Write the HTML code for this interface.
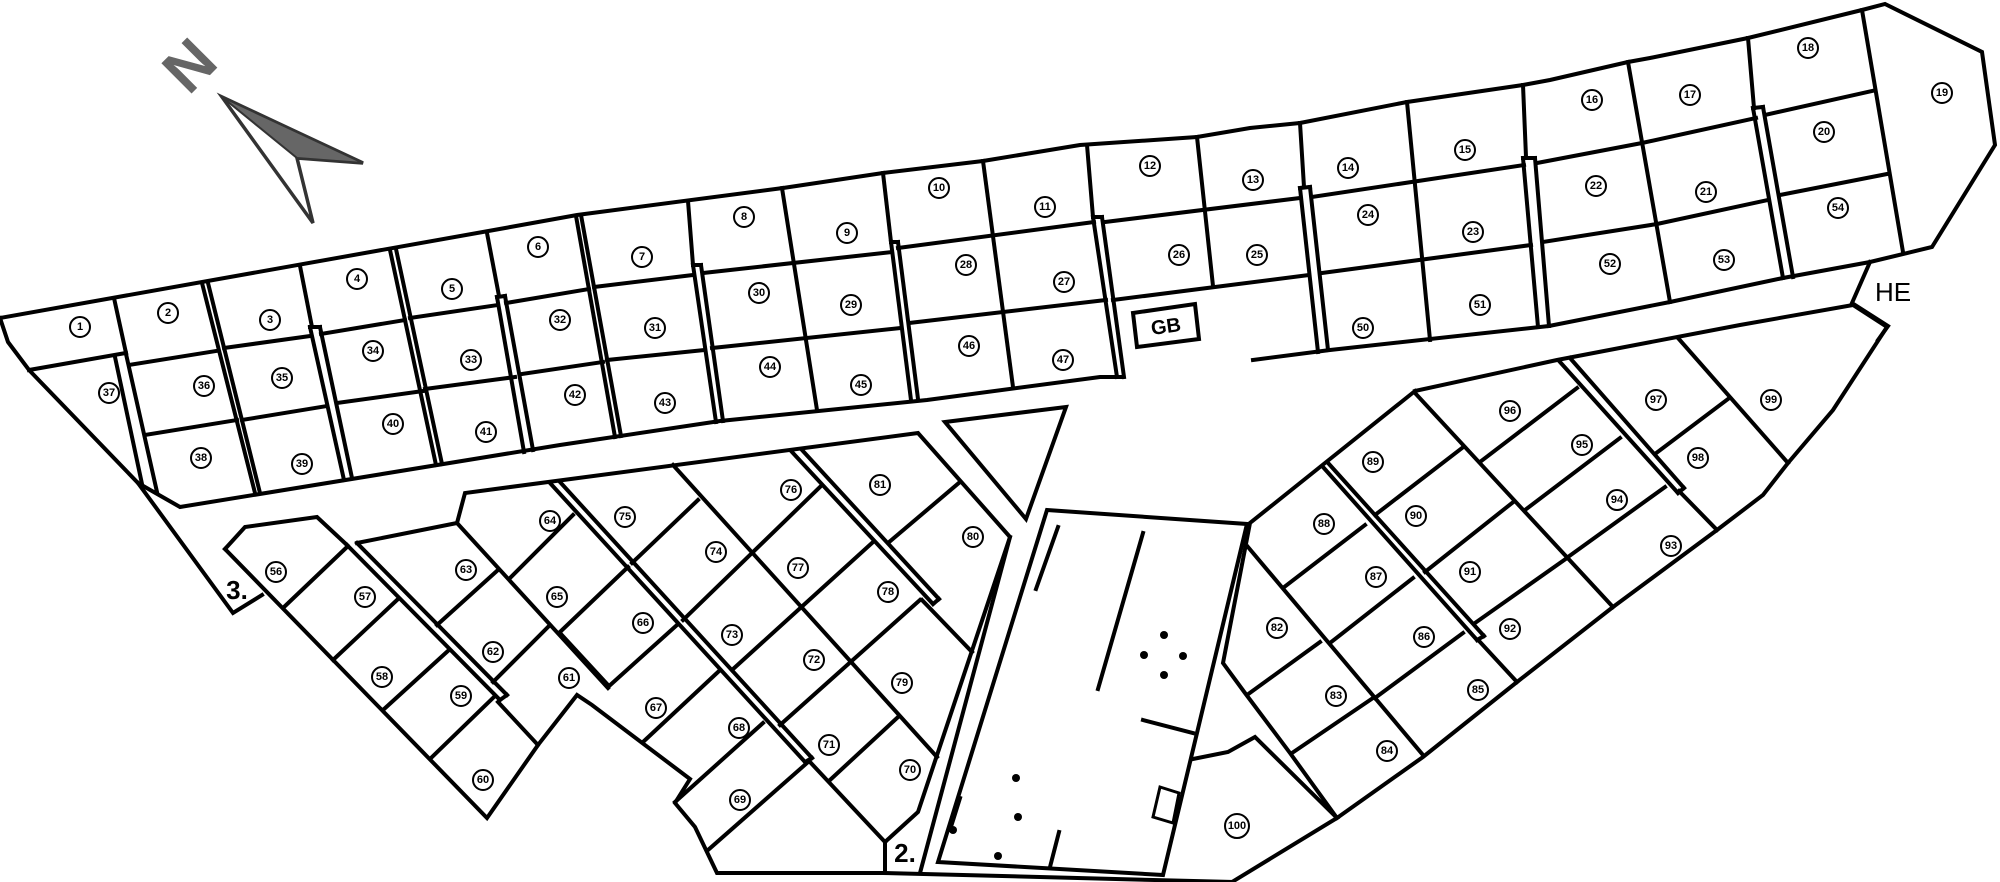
<!DOCTYPE html>
<html><head><meta charset="utf-8"><style>
html,body{margin:0;padding:0;background:#fff;}
svg{display:block;}
.l{fill:none;stroke:#000;stroke-width:4;stroke-linejoin:miter;stroke-linecap:square;}
.c{fill:#fff;stroke:#000;stroke-width:2;}
.t{font-family:"Liberation Sans",sans-serif;font-weight:bold;font-size:11px;text-anchor:middle;dominant-baseline:central;}
</style></head><body>
<svg width="2000" height="882" viewBox="0 0 2000 882" xmlns="http://www.w3.org/2000/svg">
<rect width="2000" height="882" fill="#fff"/>
<text x="190" y="66" transform="rotate(-45 190 66)" font-family="Liberation Sans,sans-serif" font-weight="bold" font-size="62" fill="#666" text-anchor="middle" dominant-baseline="central">N</text>
<polygon points="222,97 363,163 297,158 313,223" fill="#fff" stroke="#333" stroke-width="3.5"/>
<polygon points="222,97 363,163 297,158" fill="#666" stroke="#333" stroke-width="2"/>
<g class="l">
<polyline points="0,318 494,230 577,215 783,188 883,173 983,161 1080,145 1197,137 1250,128 1300,123 1407,102 1523,85 1550,80 1628,62 1650,58 1748,38 1862,10 1885,4 1982,52 1995,145 1932,247 1870,262 1783,278 1670,302 1549,326 1330,350 1253,360"/>
<polyline points="1870,262 1852,303 1888,326 1878,340"/>
<polyline points="0,318 8,342 29,370 138,483 180,507 560,445 720,421 927,400 1100,377 1122,377"/>
<polyline points="138,483 233,613 262,595"/>
<line x1="29" y1="370" x2="126" y2="353"/>
<line x1="114" y1="298" x2="126" y2="353"/>
<line x1="115" y1="357" x2="142" y2="484"/><line x1="126" y1="354" x2="157" y2="492"/>
<line x1="202" y1="283" x2="255" y2="493"/><line x1="208" y1="283" x2="260" y2="493"/>
<line x1="129" y1="365" x2="216" y2="351"/>
<line x1="145" y1="435" x2="237" y2="420"/>
<line x1="300" y1="266" x2="312" y2="327"/>
<line x1="310" y1="327" x2="344" y2="480"/><line x1="320" y1="327" x2="352" y2="478"/><line x1="310" y1="327" x2="320" y2="327"/>
<line x1="224" y1="348" x2="310" y2="336"/>
<line x1="321" y1="334" x2="405" y2="320"/>
<line x1="242" y1="420" x2="327" y2="406"/>
<line x1="337" y1="403" x2="423" y2="391"/>
<line x1="390" y1="250" x2="436" y2="465"/><line x1="396" y1="249" x2="442" y2="464"/>
<line x1="487" y1="233" x2="499" y2="296"/>
<line x1="497" y1="297" x2="524" y2="452"/><line x1="505" y1="296" x2="533" y2="450"/><line x1="497" y1="297" x2="505" y2="296"/>
<line x1="410" y1="318" x2="498" y2="305"/>
<line x1="425" y1="389" x2="515" y2="377"/>
<line x1="506" y1="303" x2="589" y2="289"/>
<line x1="522" y1="374" x2="603" y2="362"/>
<line x1="576" y1="216" x2="615" y2="437"/><line x1="581" y1="215" x2="621" y2="436"/>
<line x1="594" y1="287" x2="693" y2="275"/>
<line x1="607" y1="360" x2="705" y2="350"/>
<line x1="688" y1="201" x2="693" y2="265"/>
<line x1="693" y1="265" x2="716" y2="422"/><line x1="701" y1="265" x2="723" y2="421"/><line x1="693" y1="265" x2="701" y2="265"/>
<line x1="703" y1="273" x2="892" y2="252"/>
<line x1="712" y1="348" x2="901" y2="328"/>
<line x1="782" y1="188" x2="817" y2="410"/>
<line x1="883" y1="173" x2="891" y2="242"/>
<line x1="891" y1="242" x2="911" y2="400"/><line x1="898" y1="242" x2="918" y2="399"/><line x1="891" y1="242" x2="898" y2="242"/>
<line x1="898" y1="248" x2="1094" y2="222"/>
<line x1="909" y1="323" x2="1106" y2="300"/>
<line x1="983" y1="161" x2="1013" y2="387"/>
<line x1="1087" y1="145" x2="1093" y2="217"/>
<line x1="1093" y1="217" x2="1117" y2="377"/><line x1="1102" y1="217" x2="1124" y2="377"/><line x1="1093" y1="217" x2="1102" y2="217"/>
<line x1="1105" y1="222" x2="1300" y2="198"/>
<line x1="1113" y1="300" x2="1309" y2="275"/>
<line x1="1197" y1="137" x2="1213" y2="286"/>
<line x1="1300" y1="123" x2="1304" y2="187"/>
<line x1="1300" y1="188" x2="1318" y2="352"/><line x1="1310" y1="187" x2="1328" y2="350"/><line x1="1300" y1="188" x2="1310" y2="187"/>
<polygon points="1133,313 1195,304 1199,339 1137,347"/>
<line x1="1312" y1="197" x2="1524" y2="165"/>
<line x1="1322" y1="273" x2="1531" y2="245"/>
<line x1="1407" y1="102" x2="1430" y2="340"/>
<line x1="1523" y1="85" x2="1526" y2="157"/>
<line x1="1523" y1="158" x2="1538" y2="327"/><line x1="1535" y1="158" x2="1549" y2="326"/><line x1="1523" y1="158" x2="1535" y2="158"/>
<polyline points="1537,163 1642,143 1756,118"/>
<polyline points="1543,242 1657,224 1768,200"/>
<line x1="1628" y1="62" x2="1670" y2="302"/>
<line x1="1748" y1="38" x2="1754" y2="108"/>
<line x1="1753" y1="108" x2="1783" y2="278"/><line x1="1763" y1="107" x2="1793" y2="277"/><line x1="1753" y1="108" x2="1763" y2="107"/>
<line x1="1765" y1="115" x2="1872" y2="91"/>
<line x1="1780" y1="195" x2="1887" y2="174"/>
<line x1="1862" y1="10" x2="1903" y2="252"/>
<polyline points="225,549 245,527 317,517 347,545"/>
<polyline points="225,549 487,818 538,745 498,702"/>
<line x1="347" y1="545" x2="500" y2="700"/><line x1="357" y1="543" x2="507" y2="695"/><line x1="500" y1="700" x2="507" y2="695"/>
<line x1="283" y1="608" x2="347" y2="547"/>
<line x1="333" y1="660" x2="397" y2="600"/>
<line x1="383" y1="710" x2="449" y2="650"/>
<line x1="432" y1="757" x2="494" y2="697"/>
<polyline points="357,543 457,523 465,493 918,433 1010,537 918,812 885,842 885,873 717,873 695,827 675,803 690,779 592,705 577,695 538,745"/>
<line x1="457" y1="523" x2="608" y2="688"/>
<line x1="437" y1="625" x2="498" y2="570"/>
<line x1="493" y1="682" x2="550" y2="625"/>
<line x1="510" y1="578" x2="573" y2="515"/>
<line x1="560" y1="632" x2="628" y2="567"/>
<line x1="608" y1="687" x2="677" y2="625"/>
<line x1="560" y1="633" x2="608" y2="685"/>
<line x1="550" y1="483" x2="805" y2="762"/><line x1="560" y1="482" x2="812" y2="758"/><line x1="805" y1="762" x2="812" y2="758"/>
<line x1="673" y1="465" x2="937" y2="757"/>
<line x1="792" y1="452" x2="933" y2="604"/><line x1="802" y1="450" x2="939" y2="599"/><line x1="933" y1="604" x2="939" y2="599"/>
<line x1="922" y1="600" x2="972" y2="652"/>
<line x1="810" y1="762" x2="885" y2="842"/>
<line x1="632" y1="563" x2="698" y2="500"/>
<line x1="683" y1="620" x2="820" y2="487"/>
<line x1="732" y1="670" x2="872" y2="543"/>
<line x1="780" y1="725" x2="920" y2="600"/>
<line x1="888" y1="543" x2="960" y2="482"/>
<line x1="830" y1="780" x2="897" y2="718"/>
<line x1="643" y1="742" x2="718" y2="672"/>
<line x1="675" y1="802" x2="763" y2="723"/>
<line x1="708" y1="850" x2="807" y2="763"/>
<line x1="1010" y1="537" x2="920" y2="873"/>
<line x1="885" y1="873" x2="1232" y2="882"/>
<polygon points="945,422 1066,407 1026,519"/>
<polygon points="1047,510 1247,524 1163,875 938,862"/>
<line x1="1058" y1="527" x2="1036" y2="589"/>
<line x1="1143" y1="533" x2="1098" y2="689"/>
<line x1="1143" y1="720" x2="1193" y2="733"/>
<line x1="1059" y1="832" x2="1050" y2="867"/>
<line x1="960" y1="798" x2="950" y2="830"/>
<polygon points="1160,787 1179,793 1173,823 1153,817" stroke-width="3"/>
<polyline points="1193,759 1228,752 1255,737 1337,818 1232,882"/>
<polyline points="1415,391 1557,360 1740,325 1853,305 1887,327 1833,410 1788,463 1763,495 1717,530 1613,607 1517,682 1423,757 1337,818 1290,753 1245,693 1223,663 1250,523 1320,467 1415,391"/>
<line x1="1248" y1="547" x2="1423" y2="755"/>
<line x1="1323" y1="467" x2="1477" y2="640"/><line x1="1329" y1="464" x2="1484" y2="636"/><line x1="1477" y1="640" x2="1484" y2="636"/>
<line x1="1415" y1="393" x2="1613" y2="607"/>
<line x1="1480" y1="642" x2="1517" y2="682"/>
<line x1="1560" y1="362" x2="1678" y2="493"/><line x1="1570" y1="358" x2="1684" y2="488"/><line x1="1678" y1="493" x2="1684" y2="488"/>
<line x1="1679" y1="491" x2="1717" y2="530"/>
<line x1="1678" y1="338" x2="1788" y2="463"/>
<line x1="1283" y1="588" x2="1365" y2="525"/>
<line x1="1375" y1="515" x2="1462" y2="448"/>
<line x1="1480" y1="462" x2="1577" y2="388"/>
<line x1="1247" y1="695" x2="1320" y2="642"/>
<line x1="1330" y1="643" x2="1413" y2="578"/>
<line x1="1425" y1="572" x2="1512" y2="503"/>
<line x1="1525" y1="510" x2="1620" y2="438"/>
<line x1="1292" y1="753" x2="1373" y2="698"/>
<line x1="1375" y1="698" x2="1463" y2="633"/>
<line x1="1475" y1="623" x2="1567" y2="558"/>
<line x1="1568" y1="557" x2="1665" y2="487"/>
<line x1="1655" y1="454" x2="1728" y2="399"/>
</g>
<g fill="#000">
<circle cx="1164" cy="635" r="4"/><circle cx="1144" cy="655" r="4"/><circle cx="1183" cy="656" r="4"/><circle cx="1164" cy="675" r="4"/>
<circle cx="1016" cy="778" r="4"/><circle cx="1018" cy="817" r="4"/><circle cx="953" cy="830" r="4"/><circle cx="998" cy="856" r="4"/>
</g>
<text x="1166" y="327" font-family="Liberation Sans,sans-serif" font-weight="bold" font-size="20" text-anchor="middle" dominant-baseline="central" transform="rotate(-8 1166 327)">GB</text>
<text x="1893" y="292" font-family="Liberation Sans,sans-serif" font-size="26" text-anchor="middle" dominant-baseline="central">HE</text>
<text x="237" y="590" font-family="Liberation Sans,sans-serif" font-weight="bold" font-size="26" text-anchor="middle" dominant-baseline="central">3.</text>
<text x="905" y="853" font-family="Liberation Sans,sans-serif" font-weight="bold" font-size="26" text-anchor="middle" dominant-baseline="central">2.</text>
<g>
<circle class="c" cx="80" cy="327" r="10"/><text class="t" x="80" y="327">1</text>
<circle class="c" cx="168" cy="313" r="10"/><text class="t" x="168" y="313">2</text>
<circle class="c" cx="270" cy="320" r="10"/><text class="t" x="270" y="320">3</text>
<circle class="c" cx="357" cy="279" r="10"/><text class="t" x="357" y="279">4</text>
<circle class="c" cx="452" cy="289" r="10"/><text class="t" x="452" y="289">5</text>
<circle class="c" cx="538" cy="247" r="10"/><text class="t" x="538" y="247">6</text>
<circle class="c" cx="642" cy="257" r="10"/><text class="t" x="642" y="257">7</text>
<circle class="c" cx="744" cy="217" r="10"/><text class="t" x="744" y="217">8</text>
<circle class="c" cx="847" cy="233" r="10"/><text class="t" x="847" y="233">9</text>
<circle class="c" cx="939" cy="188" r="10"/><text class="t" x="939" y="188">10</text>
<circle class="c" cx="1045" cy="207" r="10"/><text class="t" x="1045" y="207">11</text>
<circle class="c" cx="1150" cy="166" r="10"/><text class="t" x="1150" y="166">12</text>
<circle class="c" cx="1253" cy="180" r="10"/><text class="t" x="1253" y="180">13</text>
<circle class="c" cx="1348" cy="168" r="10"/><text class="t" x="1348" y="168">14</text>
<circle class="c" cx="1465" cy="150" r="10"/><text class="t" x="1465" y="150">15</text>
<circle class="c" cx="1592" cy="100" r="10"/><text class="t" x="1592" y="100">16</text>
<circle class="c" cx="1690" cy="95" r="10"/><text class="t" x="1690" y="95">17</text>
<circle class="c" cx="1808" cy="48" r="10"/><text class="t" x="1808" y="48">18</text>
<circle class="c" cx="1942" cy="93" r="10"/><text class="t" x="1942" y="93">19</text>
<circle class="c" cx="1824" cy="132" r="10"/><text class="t" x="1824" y="132">20</text>
<circle class="c" cx="1706" cy="192" r="10"/><text class="t" x="1706" y="192">21</text>
<circle class="c" cx="1596" cy="186" r="10"/><text class="t" x="1596" y="186">22</text>
<circle class="c" cx="1473" cy="232" r="10"/><text class="t" x="1473" y="232">23</text>
<circle class="c" cx="1368" cy="215" r="10"/><text class="t" x="1368" y="215">24</text>
<circle class="c" cx="1257" cy="255" r="10"/><text class="t" x="1257" y="255">25</text>
<circle class="c" cx="1179" cy="255" r="10"/><text class="t" x="1179" y="255">26</text>
<circle class="c" cx="1064" cy="282" r="10"/><text class="t" x="1064" y="282">27</text>
<circle class="c" cx="966" cy="265" r="10"/><text class="t" x="966" y="265">28</text>
<circle class="c" cx="851" cy="305" r="10"/><text class="t" x="851" y="305">29</text>
<circle class="c" cx="759" cy="293" r="10"/><text class="t" x="759" y="293">30</text>
<circle class="c" cx="655" cy="328" r="10"/><text class="t" x="655" y="328">31</text>
<circle class="c" cx="560" cy="320" r="10"/><text class="t" x="560" y="320">32</text>
<circle class="c" cx="471" cy="360" r="10"/><text class="t" x="471" y="360">33</text>
<circle class="c" cx="373" cy="351" r="10"/><text class="t" x="373" y="351">34</text>
<circle class="c" cx="282" cy="378" r="10"/><text class="t" x="282" y="378">35</text>
<circle class="c" cx="204" cy="386" r="10"/><text class="t" x="204" y="386">36</text>
<circle class="c" cx="109" cy="393" r="10"/><text class="t" x="109" y="393">37</text>
<circle class="c" cx="201" cy="458" r="10"/><text class="t" x="201" y="458">38</text>
<circle class="c" cx="302" cy="464" r="10"/><text class="t" x="302" y="464">39</text>
<circle class="c" cx="393" cy="424" r="10"/><text class="t" x="393" y="424">40</text>
<circle class="c" cx="486" cy="432" r="10"/><text class="t" x="486" y="432">41</text>
<circle class="c" cx="575" cy="395" r="10"/><text class="t" x="575" y="395">42</text>
<circle class="c" cx="665" cy="403" r="10"/><text class="t" x="665" y="403">43</text>
<circle class="c" cx="770" cy="367" r="10"/><text class="t" x="770" y="367">44</text>
<circle class="c" cx="861" cy="385" r="10"/><text class="t" x="861" y="385">45</text>
<circle class="c" cx="969" cy="346" r="10"/><text class="t" x="969" y="346">46</text>
<circle class="c" cx="1063" cy="360" r="10"/><text class="t" x="1063" y="360">47</text>
<circle class="c" cx="1363" cy="328" r="10"/><text class="t" x="1363" y="328">50</text>
<circle class="c" cx="1480" cy="305" r="10"/><text class="t" x="1480" y="305">51</text>
<circle class="c" cx="1610" cy="264" r="10"/><text class="t" x="1610" y="264">52</text>
<circle class="c" cx="1724" cy="260" r="10"/><text class="t" x="1724" y="260">53</text>
<circle class="c" cx="1838" cy="208" r="10"/><text class="t" x="1838" y="208">54</text>
<circle class="c" cx="276" cy="572" r="10"/><text class="t" x="276" y="572">56</text>
<circle class="c" cx="365" cy="597" r="10"/><text class="t" x="365" y="597">57</text>
<circle class="c" cx="382" cy="677" r="10"/><text class="t" x="382" y="677">58</text>
<circle class="c" cx="461" cy="696" r="10"/><text class="t" x="461" y="696">59</text>
<circle class="c" cx="483" cy="780" r="10"/><text class="t" x="483" y="780">60</text>
<circle class="c" cx="569" cy="678" r="10"/><text class="t" x="569" y="678">61</text>
<circle class="c" cx="493" cy="652" r="10"/><text class="t" x="493" y="652">62</text>
<circle class="c" cx="466" cy="570" r="10"/><text class="t" x="466" y="570">63</text>
<circle class="c" cx="550" cy="521" r="10"/><text class="t" x="550" y="521">64</text>
<circle class="c" cx="557" cy="597" r="10"/><text class="t" x="557" y="597">65</text>
<circle class="c" cx="643" cy="623" r="10"/><text class="t" x="643" y="623">66</text>
<circle class="c" cx="656" cy="708" r="10"/><text class="t" x="656" y="708">67</text>
<circle class="c" cx="739" cy="728" r="10"/><text class="t" x="739" y="728">68</text>
<circle class="c" cx="740" cy="800" r="10"/><text class="t" x="740" y="800">69</text>
<circle class="c" cx="910" cy="770" r="10"/><text class="t" x="910" y="770">70</text>
<circle class="c" cx="829" cy="745" r="10"/><text class="t" x="829" y="745">71</text>
<circle class="c" cx="814" cy="660" r="10"/><text class="t" x="814" y="660">72</text>
<circle class="c" cx="732" cy="635" r="10"/><text class="t" x="732" y="635">73</text>
<circle class="c" cx="716" cy="552" r="10"/><text class="t" x="716" y="552">74</text>
<circle class="c" cx="625" cy="517" r="10"/><text class="t" x="625" y="517">75</text>
<circle class="c" cx="791" cy="490" r="10"/><text class="t" x="791" y="490">76</text>
<circle class="c" cx="798" cy="568" r="10"/><text class="t" x="798" y="568">77</text>
<circle class="c" cx="888" cy="592" r="10"/><text class="t" x="888" y="592">78</text>
<circle class="c" cx="902" cy="683" r="10"/><text class="t" x="902" y="683">79</text>
<circle class="c" cx="973" cy="537" r="10"/><text class="t" x="973" y="537">80</text>
<circle class="c" cx="880" cy="485" r="10"/><text class="t" x="880" y="485">81</text>
<circle class="c" cx="1277" cy="628" r="10"/><text class="t" x="1277" y="628">82</text>
<circle class="c" cx="1336" cy="696" r="10"/><text class="t" x="1336" y="696">83</text>
<circle class="c" cx="1387" cy="751" r="10"/><text class="t" x="1387" y="751">84</text>
<circle class="c" cx="1478" cy="690" r="10"/><text class="t" x="1478" y="690">85</text>
<circle class="c" cx="1424" cy="637" r="10"/><text class="t" x="1424" y="637">86</text>
<circle class="c" cx="1376" cy="577" r="10"/><text class="t" x="1376" y="577">87</text>
<circle class="c" cx="1324" cy="524" r="10"/><text class="t" x="1324" y="524">88</text>
<circle class="c" cx="1373" cy="462" r="10"/><text class="t" x="1373" y="462">89</text>
<circle class="c" cx="1416" cy="516" r="10"/><text class="t" x="1416" y="516">90</text>
<circle class="c" cx="1470" cy="572" r="10"/><text class="t" x="1470" y="572">91</text>
<circle class="c" cx="1510" cy="629" r="10"/><text class="t" x="1510" y="629">92</text>
<circle class="c" cx="1671" cy="546" r="10"/><text class="t" x="1671" y="546">93</text>
<circle class="c" cx="1617" cy="500" r="10"/><text class="t" x="1617" y="500">94</text>
<circle class="c" cx="1582" cy="445" r="10"/><text class="t" x="1582" y="445">95</text>
<circle class="c" cx="1510" cy="411" r="10"/><text class="t" x="1510" y="411">96</text>
<circle class="c" cx="1656" cy="400" r="10"/><text class="t" x="1656" y="400">97</text>
<circle class="c" cx="1698" cy="458" r="10"/><text class="t" x="1698" y="458">98</text>
<circle class="c" cx="1771" cy="400" r="10"/><text class="t" x="1771" y="400">99</text>
<circle class="c" cx="1237" cy="826" r="12"/><text class="t" x="1237" y="826" font-size="10">100</text>
</g>
</svg>
</body></html>
